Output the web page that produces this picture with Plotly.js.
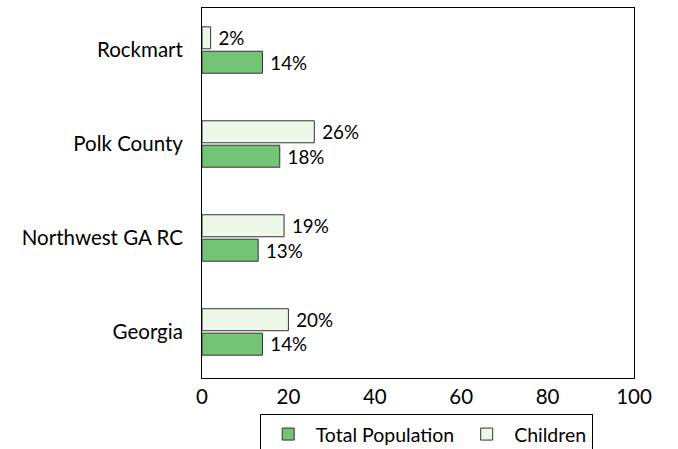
<!DOCTYPE html>
<html>
<head>
<meta charset="utf-8">
<script src="https://cdn.plot.ly/plotly-3.0.1.min.js"></script>
<style>html,body{margin:0;padding:0;background:#fff;}#chart{width:678px;height:449px;}</style>
</head>
<body>
<div id="chart"></div>
<script>
var categories = ["Georgia", "Northwest GA RC", "Polk County", "Rockmart"];
var totalPopulation = [14, 13, 18, 14];
var children = [20, 19, 26, 2];
var xTicks = [0, 20, 40, 60, 80, 100];

var fontFamily = "Lato, 'DejaVu Sans', sans-serif";
var fs = 20.5;

var traces = [
  {
    type: "bar", orientation: "h", name: "Total Population",
    y: categories, x: totalPopulation,
    marker: {color: "#74c476", line: {color: "#333333", width: 1}},
    texttemplate: " %{x}%", textposition: "outside", cliponaxis: false,
    textfont: {size: fs, color: "#000"}
  },
  {
    type: "bar", orientation: "h", name: "Children",
    y: categories, x: children,
    marker: {color: "#edf8e9", line: {color: "#333333", width: 1}},
    texttemplate: " %{x}%", textposition: "outside", cliponaxis: false,
    textfont: {size: fs, color: "#000"}
  }
];

var layout = {
  width: 678, height: 449,
  margin: {l: 202, r: 44, t: 8, b: 71, autoexpand: false},
  paper_bgcolor: "#fff", plot_bgcolor: "#fff",
  font: {family: fontFamily, size: fs, color: "#000"},
  barmode: "group", bargap: 0.48, bargroupgap: 0.1,
  showlegend: true,
  legend: {
    orientation: "h", x: 0.519, xanchor: "center", y: -0.097, yanchor: "top",
    bordercolor: "#000", borderwidth: 1, bgcolor: "#fff",
    font: {size: 19.5}, traceorder: "normal", itemwidth: 45
  },
  xaxis: {
    range: [0, 100], tickvals: xTicks, ticktext: xTicks.map(String),
    showgrid: false, zeroline: false, showline: true, linecolor: "#000", linewidth: 1,
    mirror: true, ticks: "", ticklen: 0, automargin: false
  },
  yaxis: {
    type: "category", categoryorder: "array", categoryarray: categories,
    range: [-0.49, 3.447],
    showgrid: false, zeroline: false, showline: true, linecolor: "#000", linewidth: 1,
    mirror: true, ticks: "", ticklen: 0, ticklabelstandoff: 14, automargin: false
  }
};

Plotly.newPlot("chart", traces, layout, {displayModeBar: false, staticPlot: true});
</script>
</body>
</html>
